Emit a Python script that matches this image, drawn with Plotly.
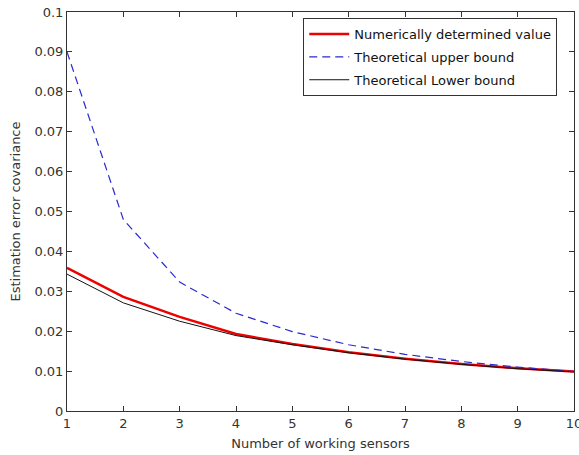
import plotly.graph_objects as go

sensors = [1, 2, 3, 4, 5, 6, 7, 8, 9, 10]
numerical = [0.0359, 0.0286, 0.0236, 0.0193, 0.0168, 0.0147, 0.0131, 0.0118, 0.0107, 0.0099]
upper_bound = [0.0900, 0.0480, 0.0323, 0.0245, 0.0199, 0.0166, 0.0142, 0.0124, 0.0110, 0.0099]
lower_bound = [0.0343, 0.0271, 0.0225, 0.0189, 0.0166, 0.0146, 0.0130, 0.0117, 0.0106, 0.0098]

FONT = "DejaVu Sans"

fig = go.Figure()
fig.add_trace(go.Scatter(x=sensors, y=numerical, mode="lines",
                         name="Numerically determined value", legendgroup="a",
                         line=dict(color="#ee0000", width=2.5)))
fig.add_trace(go.Scatter(x=sensors, y=upper_bound, mode="lines",
                         name="Theoretical upper bound", legendgroup="b",
                         line=dict(color="#2a2ad0", width=1.2, dash="8px,5px")))
fig.add_trace(go.Scatter(x=sensors, y=lower_bound, mode="lines",
                         name="Theoretical Lower bound", legendgroup="c",
                         line=dict(color="#111111", width=1)))

axis_style = dict(showline=True, mirror="ticks", linecolor="#333333", linewidth=1,
                  ticks="inside", ticklen=5, tickcolor="#333333",
                  showgrid=False, zeroline=False, automargin=False,
                  ticklabeloverflow="allow",
                  tickfont=dict(family=FONT, size=13, color="#333333"))

fig.update_xaxes(range=[1, 10], dtick=1,
                 title=dict(text="Number of working sensors", standoff=9,
                            font=dict(family=FONT, size=13, color="#333333")),
                 **axis_style)
fig.update_yaxes(range=[0, 0.1], dtick=0.01,
                 title=dict(text="Estimation error covariance", standoff=10,
                            font=dict(family=FONT, size=13, color="#333333")),
                 **axis_style)

fig.update_layout(
    width=579, height=455,
    margin=dict(l=67, r=5, t=12, b=44),
    plot_bgcolor="white", paper_bgcolor="white",
    font=dict(family=FONT, color="#222222"),
    legend=dict(x=0.466, y=0.985, xanchor="left", yanchor="top",
                bgcolor="white", bordercolor="#333333", borderwidth=1,
                font=dict(family=FONT, size=13, color="#111111"),
                tracegroupgap=3, itemwidth=40),
)

# page body has a default 8px margin; drop it so the figure sits at the corner
fig.write_html("out.html", config={"displayModeBar": False},
               post_script="document.body.style.margin='0';")
